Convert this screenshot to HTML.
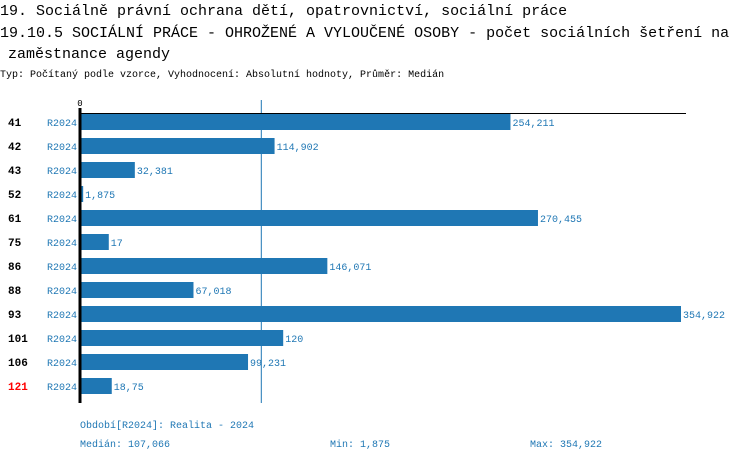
<!DOCTYPE html>
<html><head><meta charset="utf-8"><style>
body{margin:0;background:#fff;width:750px;height:462px;overflow:hidden;font-family:"Liberation Mono",monospace}
svg{display:block}
</style></head><body>
<svg id="c" width="750" height="462" xmlns="http://www.w3.org/2000/svg">
<text x="0" y="15" font-size="15" font-family="Liberation Mono, monospace" fill="#000">19. Sociálně právní ochrana dětí, opatrovnictví, sociální práce</text>
<text x="0" y="37" font-size="15" font-family="Liberation Mono, monospace" fill="#000">19.10.5 SOCIÁLNÍ PRÁCE - OHROŽENÉ A VYLOUČENÉ OSOBY - počet sociálních šetření na</text>
<text x="8" y="58" font-size="15" font-family="Liberation Mono, monospace" fill="#000">zaměstnance agendy</text>
<text x="0" y="77" font-size="10" font-family="Liberation Mono, monospace" fill="#000">Typ: Počítaný podle vzorce, Vyhodnocení: Absolutní hodnoty, Průměr: Medián</text>
<g id="plot"></g>
<text x="80" y="428" font-size="10" font-family="Liberation Mono, monospace" fill="#1f77b4">Období[R2024]: Realita - 2024</text>
<text x="80" y="447" font-size="10" font-family="Liberation Mono, monospace" fill="#1f77b4">Medián: 107,066</text>
<text x="330" y="447" font-size="10" font-family="Liberation Mono, monospace" fill="#1f77b4">Min: 1,875</text>
<text x="530" y="447" font-size="10" font-family="Liberation Mono, monospace" fill="#1f77b4">Max: 354,922</text>
</svg>
<script>
const categories=["41","42","43","52","61","75","86","88","93","101","106","121"];
const values=[254.211,114.902,32.381,1.875,270.455,17,146.071,67.018,354.922,120,99.231,18.75];
const valueLabels=["254,211","114,902","32,381","1,875","270,455","17","146,071","67,018","354,922","120","99,231","18,75"];
const series="R2024";
const median=107.066;
const NS="http://www.w3.org/2000/svg";
const g=document.getElementById('plot');
const x0=80,pw=601,maxV=354.922;
const xs=v=>x0+v/maxV*pw;
const yc=i=>122+i*24;
function mk(t,a){const e=document.createElementNS(NS,t);for(const k in a)e.setAttribute(k,a[k]);g.appendChild(e);return e;}
const ml=mk('line',{x1:xs(median),x2:xs(median),y1:100,y2:403,stroke:'#1f77b4','stroke-width':1});


const xAxisLine=mk('line',{x1:80,x2:686,y1:113.5,y2:113.5,stroke:'#000','stroke-width':1});


const z=mk('text',{x:80,y:106,'font-size':9,'text-anchor':'middle','font-family':'Liberation Mono, monospace'});z.textContent='0';


categories.forEach((c,i)=>{
 const y=yc(i);
 const cl=mk('text',{x:8,y:y+4,'font-size':11,'font-weight':'bold','font-family':'Liberation Mono, monospace',fill:i==categories.length-1?'#f00':'#000'});cl.textContent=c;
 
 
 const sl=mk('text',{x:47,y:y+4,'font-size':10,'font-family':'Liberation Mono, monospace',fill:'#1f77b4'});sl.textContent=series;
 
 
 const b=mk('rect',{x:x0,y:y-8,width:xs(values[i])-x0,height:16,fill:'#1f77b4'});
 
 
 const vl=mk('text',{x:xs(values[i])+2,y:y+4,'font-size':10,'font-family':'Liberation Mono, monospace',fill:'#1f77b4'});vl.textContent=valueLabels[i];
 
 
});
const ya=mk('line',{x1:80,x2:80,y1:108,y2:403,stroke:'#000','stroke-width':3});


</script>
</body></html>
